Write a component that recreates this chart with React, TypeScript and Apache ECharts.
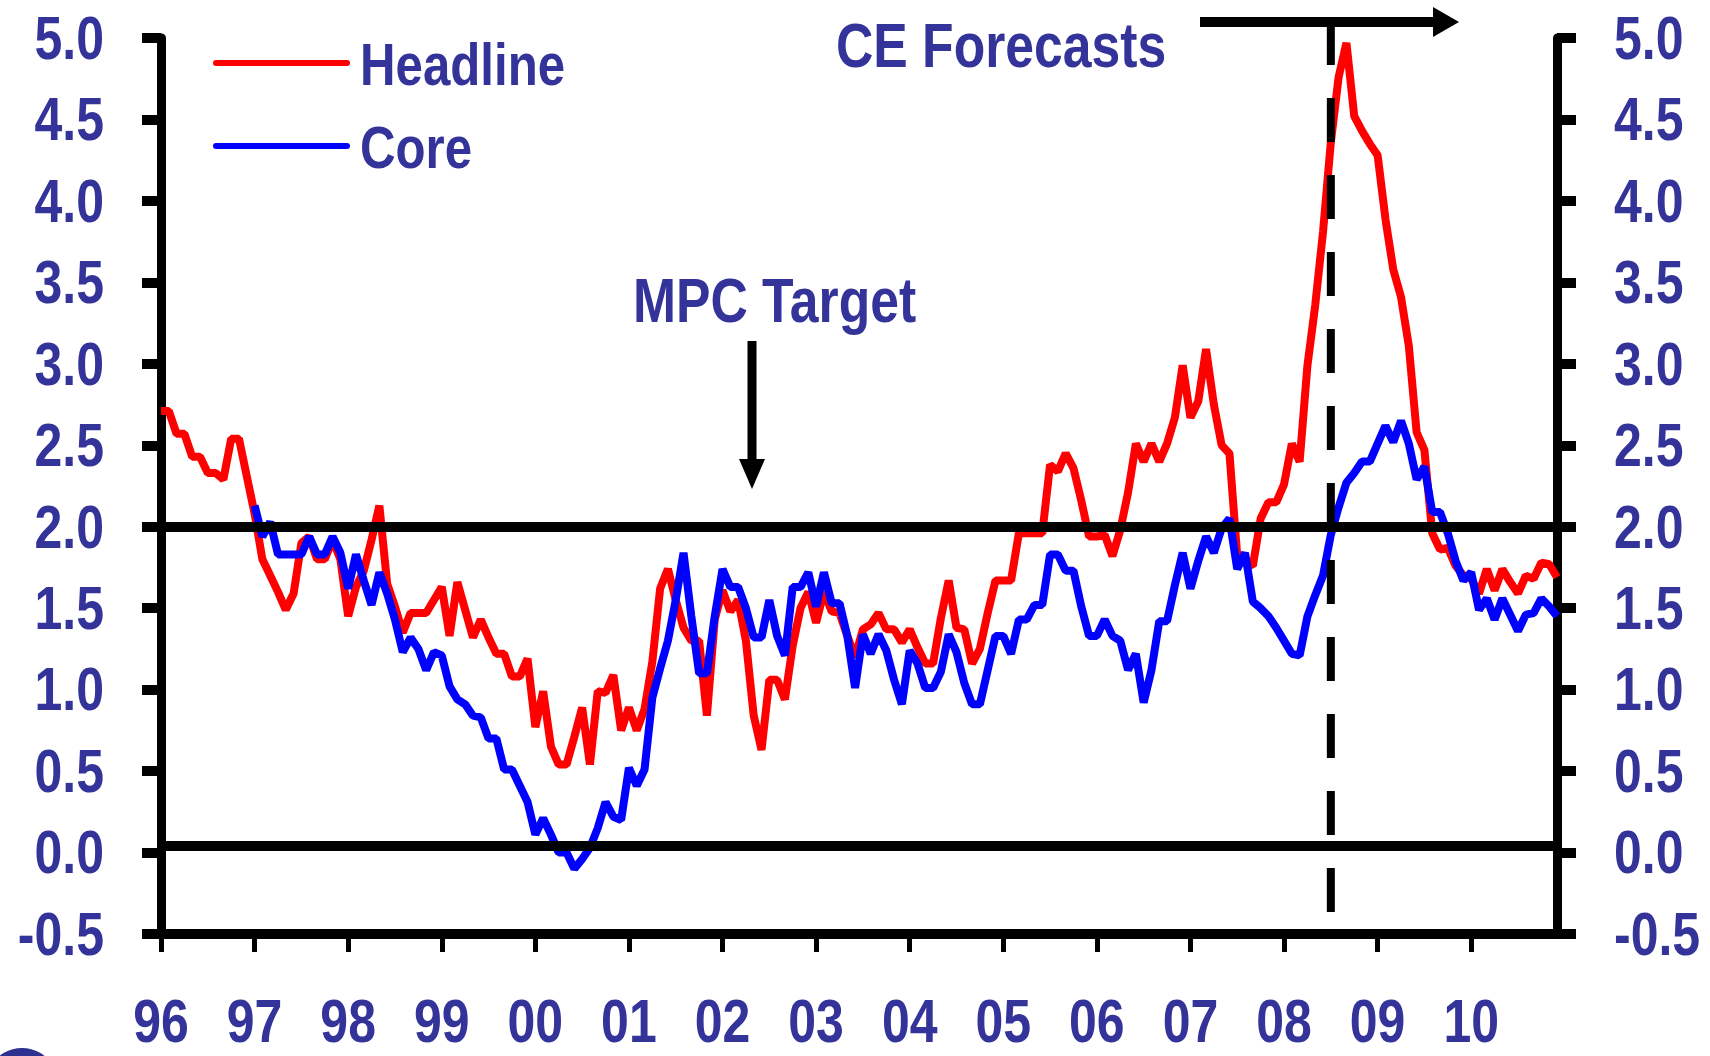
import React, { useEffect, useRef } from "react";
import * as echarts from "echarts";

// ---------- data ----------
const YEAR_LABELS = ["96", "97", "98", "99", "00", "01", "02", "03", "04", "05", "06", "07", "08", "09", "10"];
const MONTHS = ["01", "02", "03", "04", "05", "06", "07", "08", "09", "10", "11", "12"];
const categories = YEAR_LABELS.flatMap((y) => MONTHS.map((m) => `${y}-${m}`));

const Y_TICKS = [-0.5, 0.0, 0.5, 1.0, 1.5, 2.0, 2.5, 3.0, 3.5, 4.0, 4.5, 5.0];

// CPI headline inflation, % y/y (Jan 1996 - Dec 2010)
const headline = [
  2.71, 2.71, 2.57, 2.57, 2.43, 2.43, 2.33, 2.33, 2.29, 2.54, 2.54, 2.31, // 1996
  2.08, 1.80, 1.70, 1.60, 1.49, 1.59, 1.90, 1.94, 1.80, 1.80, 1.92, 1.80, // 1997
  1.45, 1.63, 1.73, 1.92, 2.13, 1.65, 1.51, 1.35, 1.47, 1.47, 1.47, 1.55, // 1998
  1.63, 1.33, 1.66, 1.49, 1.32, 1.43, 1.32, 1.22, 1.22, 1.08, 1.08, 1.19, // 1999
  0.77, 0.99, 0.65, 0.54, 0.54, 0.71, 0.89, 0.54, 0.99, 0.98, 1.09, 0.75, // 2000
  0.89, 0.75, 0.88, 1.17, 1.62, 1.74, 1.55, 1.38, 1.30, 1.30, 0.84, 1.43, // 2001
  1.61, 1.48, 1.55, 1.30, 0.84, 0.63, 1.06, 1.06, 0.94, 1.27, 1.50, 1.60, // 2002
  1.41, 1.60, 1.48, 1.47, 1.33, 1.20, 1.37, 1.40, 1.47, 1.37, 1.37, 1.29, // 2003
  1.37, 1.26, 1.16, 1.16, 1.44, 1.67, 1.38, 1.37, 1.16, 1.25, 1.47, 1.67, // 2004
  1.67, 1.67, 1.96, 1.96, 1.96, 1.96, 2.38, 2.34, 2.45, 2.36, 2.16, 1.94, // 2005
  1.94, 1.95, 1.82, 1.98, 2.21, 2.51, 2.40, 2.51, 2.40, 2.51, 2.67, 2.99, // 2006
  2.67, 2.77, 3.09, 2.75, 2.50, 2.45, 1.82, 1.78, 1.76, 2.05, 2.15, 2.15, // 2007
  2.26, 2.51, 2.40, 2.99, 3.36, 3.81, 4.36, 4.76, 4.97, 4.52, 4.43, 4.35, // 2008
  4.28, 3.89, 3.58, 3.41, 3.11, 2.58, 2.47, 1.96, 1.86, 1.87, 1.76, 1.70, // 2009
  1.68, 1.59, 1.74, 1.61, 1.74, 1.66, 1.59, 1.70, 1.68, 1.78, 1.77, 1.69, // 2010
];

// CPI core inflation, % y/y (series starts Jan 1997)
const core = [
  null, null, null, null, null, null, null, null, null, null, null, null, // 1996
  2.13, 1.94, 2.03, 1.83, 1.83, 1.83, 1.83, 1.94, 1.83, 1.83, 1.94, 1.84, // 1997
  1.62, 1.83, 1.67, 1.52, 1.72, 1.59, 1.43, 1.23, 1.32, 1.25, 1.12, 1.23, // 1998
  1.21, 1.02, 0.94, 0.91, 0.84, 0.83, 0.70, 0.70, 0.51, 0.51, 0.41, 0.31, // 1999
  0.11, 0.21, 0.11, 0.00, 0.00, -0.10, -0.04, 0.03, 0.15, 0.31, 0.22, 0.20, // 2000
  0.52, 0.41, 0.51, 0.95, 1.13, 1.30, 1.55, 1.84, 1.45, 1.10, 1.10, 1.45, // 2001
  1.74, 1.63, 1.63, 1.50, 1.32, 1.32, 1.55, 1.33, 1.21, 1.63, 1.63, 1.72, // 2002
  1.51, 1.72, 1.53, 1.53, 1.33, 1.01, 1.34, 1.22, 1.34, 1.24, 1.06, 0.91, // 2003
  1.24, 1.16, 1.01, 1.01, 1.11, 1.34, 1.23, 1.04, 0.91, 0.91, 1.12, 1.33, // 2004
  1.33, 1.22, 1.43, 1.43, 1.52, 1.52, 1.83, 1.83, 1.73, 1.73, 1.51, 1.33, // 2005
  1.33, 1.43, 1.33, 1.30, 1.12, 1.22, 0.92, 1.12, 1.42, 1.42, 1.64, 1.84, // 2006
  1.62, 1.79, 1.94, 1.84, 1.99, 2.05, 1.74, 1.84, 1.54, 1.50, 1.45, 1.38, // 2007
  1.30, 1.22, 1.21, 1.45, 1.58, 1.70, 1.95, 2.12, 2.27, 2.33, 2.40, 2.40, // 2008
  2.51, 2.62, 2.52, 2.65, 2.51, 2.29, 2.37, 2.09, 2.09, 1.96, 1.79, 1.67, // 2009
  1.72, 1.49, 1.56, 1.43, 1.56, 1.46, 1.36, 1.46, 1.47, 1.56, 1.51, 1.45, // 2010
];

const Y_MIN = -0.5;
const Y_MAX = 5.0;
const Y_STEP = 0.5;
const MPC_TARGET = 2.0;
const ZERO_LINE = 0.035;
const FORECAST_FROM = "08-07";

// ---------- style ----------
// Arial-metric bold face squeezed horizontally to imitate Arial Narrow Bold
const FONT = "'Liberation Sans', Arial, sans-serif";
const NARROW = 0.82;
const TEXT = "#333399";
const W = 1710;
const H = 1056;
const GRID = { left: 161, right: 153, top: 38, bottom: 122 };
const LABEL_GAP = 57;
const X_LABEL_Y = 1021;

const yAxisBase = (position: "left" | "right") => ({
  type: "value",
  position,
  min: Y_MIN,
  max: Y_MAX,
  interval: Y_STEP,
  axisLine: { show: true, onZero: false, lineStyle: { color: "#000", width: 9 } },
  axisTick: { show: true, inside: false, length: 19, lineStyle: { color: "#000", width: 10 } },
  axisLabel: { show: false },
  splitLine: { show: false },
});

const narrowText = (
  text: string,
  x: number,
  y: number,
  align: "left" | "right" | "center",
  size = 61
) => ({
  type: "text",
  x,
  y,
  scaleX: NARROW,
  scaleY: 1,
  z: 20,
  style: {
    text,
    fill: TEXT,
    fontSize: size,
    fontWeight: "bold",
    fontFamily: FONT,
    align,
    verticalAlign: "middle",
  },
});

export default function App() {
  const ref = useRef<HTMLDivElement>(null);

  useEffect(() => {
    if (!ref.current) return;
    const chart = echarts.init(ref.current, undefined, { renderer: "svg" });
    const yearTick = (i: number) => i % 12 === 0;

    chart.setOption({
      animation: false,
      backgroundColor: "#ffffff",
      grid: { ...GRID, containLabel: false, outerBoundsMode: "none" },
      xAxis: {
        type: "category",
        data: categories,
        boundaryGap: false,
        axisLine: { show: true, onZero: false, lineStyle: { color: "#000", width: 10 } },
        axisTick: { show: true, interval: yearTick, length: 18, lineStyle: { color: "#000", width: 5 } },
        axisLabel: { show: false },
        splitLine: { show: false },
      },
      yAxis: [yAxisBase("left"), yAxisBase("right")],
      series: [
        {
          name: "Headline",
          type: "line",
          data: headline,
          showSymbol: false,
          symbol: "none",
          lineStyle: { color: "#ff0000", width: 8 },
          itemStyle: { color: "#ff0000" },
          z: 2,
        },
        {
          name: "Core",
          type: "line",
          data: core,
          showSymbol: false,
          symbol: "none",
          connectNulls: false,
          lineStyle: { color: "#0000ff", width: 8 },
          itemStyle: { color: "#0000ff" },
          z: 3,
          markLine: {
            silent: true,
            symbol: ["none", "none"],
            label: { show: false },
            lineStyle: { color: "#000", width: 10, type: "solid" },
            data: [{ yAxis: MPC_TARGET }, { yAxis: ZERO_LINE }],
          },
        },
      ],
    });

    const fx = chart.convertToPixel({ xAxisIndex: 0 }, FORECAST_FROM) as number;
    const leftLabelX = GRID.left - LABEL_GAP;
    const rightLabelX = W - GRID.right + LABEL_GAP;

    const yLabels = Y_TICKS.flatMap((v) => {
      const py = chart.convertToPixel({ yAxisIndex: 0 }, v) as number;
      return [
        narrowText(v.toFixed(1), leftLabelX, py, "right"),
        narrowText(v.toFixed(1), rightLabelX, py, "left"),
      ];
    });
    const xLabels = YEAR_LABELS.map((y) => {
      const px = chart.convertToPixel({ xAxisIndex: 0 }, `${y}-01`) as number;
      return narrowText(y, px, X_LABEL_Y, "center");
    });

    chart.setOption({
      graphic: [
        ...yLabels,
        ...xLabels,
        // legend
        { type: "line", shape: { x1: 216, y1: 63, x2: 347, y2: 63 }, style: { stroke: "#ff0000", lineWidth: 6, lineCap: "round" }, z: 20 },
        narrowText("Headline", 360, 64, "left", 60),
        { type: "line", shape: { x1: 216, y1: 146, x2: 347, y2: 146 }, style: { stroke: "#0000ff", lineWidth: 6, lineCap: "round" }, z: 20 },
        narrowText("Core", 360, 147, "left", 60),
        // annotations
        narrowText("CE Forecasts", 836, 45, "left", 63),
        narrowText("MPC Target", 633, 300, "left", 63),
        { type: "line", shape: { x1: 752, y1: 341, x2: 752, y2: 462 }, style: { stroke: "#000", lineWidth: 9 }, z: 20 },
        { type: "polygon", shape: { points: [[739, 459], [765, 459], [752, 489]] }, style: { fill: "#000" }, z: 20 },
        { type: "line", shape: { x1: 1200, y1: 22, x2: 1438, y2: 22 }, style: { stroke: "#000", lineWidth: 10 }, z: 20 },
        { type: "polygon", shape: { points: [[1433, 7], [1459, 22], [1433, 37]] }, style: { fill: "#000" }, z: 20 },
        { type: "line", shape: { x1: fx, y1: 21, x2: fx, y2: 912 }, style: { stroke: "#000", lineWidth: 8, lineDash: [44, 33] }, z: 20 },
        // partial logo at page corner
        { type: "circle", shape: { cx: 22, cy: 1084, r: 36 }, style: { fill: "#2e3192" }, z: 1 },
      ],
    });

    return () => chart.dispose();
  }, []);

  return (
    <div
      ref={ref}
      style={{ position: "fixed", left: 0, top: 0, width: W, height: H, background: "#fff" }}
    />
  );
}
